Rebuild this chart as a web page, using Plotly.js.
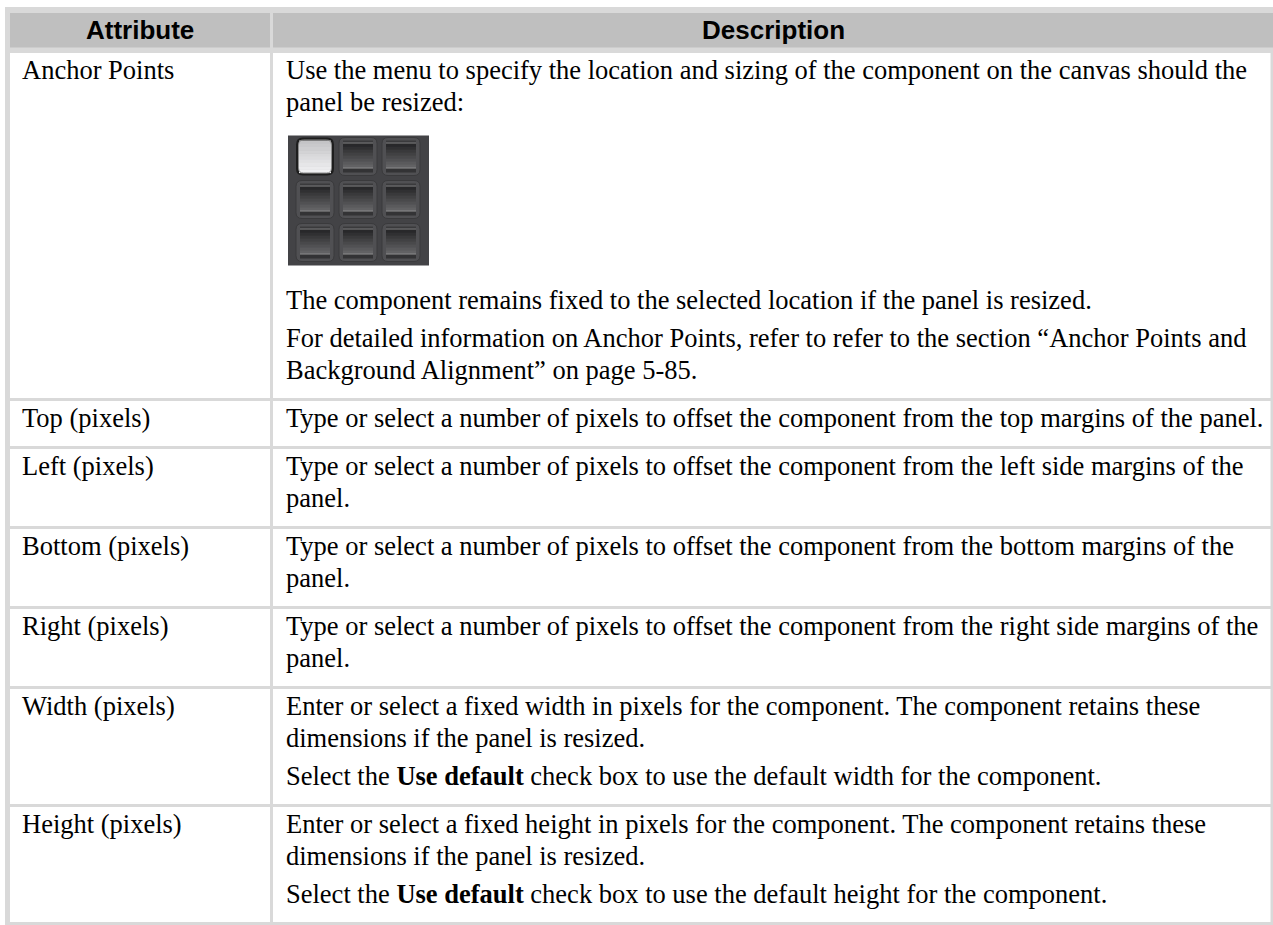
<!DOCTYPE html>
<html>
<head>
<meta charset="utf-8">
<script src="https://cdn.plot.ly/plotly-3.0.1.min.js"></script>
<style>
html,body{margin:0;padding:0;background:#fff;}
#chart{width:1273px;height:925px;}
</style>
</head>
<body>
<div id="chart"></div>
<script>
// ---- table content ----
const headers = ["Attribute", "Description"];
const attributes = ["Anchor Points", "Top (pixels)", "Left (pixels)", "Bottom (pixels)", "Right (pixels)", "Width (pixels)", "Height (pixels)"];
// each description: list of paragraphs; each paragraph is a list of wrapped lines; "IMAGE" = anchor grid picture
const descAnchor = [
  ["Use the menu to specify the location and sizing of the component on the canvas should the", "panel be resized:"],
  "IMAGE",
  ["The component remains fixed to the selected location if the panel is resized."],
  ["For detailed information on Anchor Points, refer to refer to the section \u201cAnchor Points and", "Background Alignment\u201d on page 5-85."]
];
const descTop = [["Type or select a number of pixels to offset the component from the top margins of the panel."]];
const descLeft = [["Type or select a number of pixels to offset the component from the left side margins of the", "panel."]];
const descBottom = [["Type or select a number of pixels to offset the component from the bottom margins of the", "panel."]];
const descRight = [["Type or select a number of pixels to offset the component from the right side margins of the", "panel."]];
const descWidth = [
  ["Enter or select a fixed width in pixels for the component. The component retains these", "dimensions if the panel is resized."],
  ["Select the <b>Use default</b> check box to use the default width for the component."]
];
const descHeight = [
  ["Enter or select a fixed height in pixels for the component. The component retains these", "dimensions if the panel is resized."],
  ["Select the <b>Use default</b> check box to use the default height for the component."]
];
const descriptions = [descAnchor, descTop, descLeft, descBottom, descRight, descWidth, descHeight];
// anchor grid: which button is selected (row, col)
const anchorSelected = [0, 0];

// ---- geometry / style ----
const W = 1273, H = 925;
const BORDER = '#d9d9d9', HEADFILL = '#bfbfbf';
const serif = 'Liberation Serif, Times New Roman, serif';
const sans = 'Liberation Sans, Arial, sans-serif';
const FS = 26.5;
const outer = {x0: 5, y0: 7, x1: W, y1: H};
const col1 = {x0: 10, x1: 270};
const col2 = {x0: 273, x1: 1270.5};
const head = {y0: 13, y1: 47.5};
const bodyTop = 53;
const FIRST = 16.5, WRAP = 32, PARA = 38, BOTTOM = 28.5, DIV = 3;
const IMG = {w: 141, h: 130, gapBefore: 34, gapAfter: 34};

const shapes = [];
const annotations = [];
function rect(x0, y0, x1, y1, fill, line) {
  shapes.push({type: 'rect', xref: 'x', yref: 'y', x0, y0, x1, y1, fillcolor: fill,
    line: line ? line : {width: 0}, layer: 'above'});
}
function rrPath(x0, y0, x1, y1, r) {
  return `M${x0 + r},${y0} L${x1 - r},${y0} Q${x1},${y0} ${x1},${y0 + r} L${x1},${y1 - r} Q${x1},${y1} ${x1 - r},${y1} L${x0 + r},${y1} Q${x0},${y1} ${x0},${y1 - r} L${x0},${y0 + r} Q${x0},${y0} ${x0 + r},${y0} Z`;
}
function rr(x0, y0, x1, y1, r, fill, line) {
  shapes.push({type: 'path', xref: 'x', yref: 'y', path: rrPath(x0, y0, x1, y1, r), fillcolor: fill,
    line: line ? line : {width: 0}, layer: 'above'});
}
function text(x, y, t, font, anchor) {
  annotations.push({xref: 'x', yref: 'y', x, y, text: t, showarrow: false, xanchor: anchor || 'left',
    yanchor: 'middle', font, borderpad: 0, borderwidth: 0});
}
function lerp(a, b, t) { return Math.round(a + (b - a) * t); }
function grad(c0, c1, t) {
  return `rgb(${lerp(c0[0], c1[0], t)},${lerp(c0[1], c1[1], t)},${lerp(c0[2], c1[2], t)})`;
}

function drawAnchorGrid(x0, y0) {
  rect(x0, y0, x0 + IMG.w, y0 + IMG.h, '#434346');
  const size = 38, pitch = 43, offX = 8, offY = 2;
  for (let r = 0; r < 3; r++) {
    for (let c = 0; c < 3; c++) {
      const bx = x0 + offX + c * pitch, by = y0 + offY + r * pitch;
      const sel = (r === anchorSelected[0] && c === anchorSelected[1]);
      if (sel) {
        rr(bx, by, bx + size, by + size, 7, '#1e1e1e');
        const n = 10;
        for (let k = 0; k < n; k++) {
          const t = k / (n - 1);
          const y = by + 3 + k * (size - 6) / n;
          shapes.push({type: 'rect', xref: 'x', yref: 'y', x0: bx + 3, x1: bx + size - 3, y0: y, y1: y + (size - 6) / n + 0.6,
            fillcolor: grad([196, 196, 198], [240, 240, 242], t), line: {width: 0}, layer: 'above'});
        }
        rr(bx + 2.5, by + 2.5, bx + size - 2.5, by + size - 2.5, 5, 'rgba(0,0,0,0)', {color: '#8a8a8a', width: 1});
      } else {
        rr(bx, by, bx + size, by + size, 6, '#505053', {color: '#3a3a3c', width: 1});
        rect(bx + 4, by + 3, bx + size - 4, by + 6, '#3a3a3c');
        rect(bx + 4, by + 5, bx + size - 4, by + 6.2, '#7a7a7c');
        const n = 8, fy0 = by + 6.2, fy1 = by + size - 8;
        for (let k = 0; k < n; k++) {
          const t = k / (n - 1);
          const y = fy0 + k * (fy1 - fy0) / n;
          shapes.push({type: 'rect', xref: 'x', yref: 'y', x0: bx + 4, x1: bx + size - 4, y0: y, y1: y + (fy1 - fy0) / n + 0.6,
            fillcolor: grad([40, 40, 42], [98, 98, 100], t), line: {width: 0}, layer: 'above'});
        }
        rect(bx + 4, fy1, bx + size - 4, fy1 + 1.2, '#8a8a8c');
        rect(bx + 4, fy1 + 1.2, bx + size - 4, by + size - 3, '#333335');
      }
    }
  }
}

// outer border frame
rect(outer.x0, outer.y0, outer.x1, outer.y1, BORDER);
// header
rect(col1.x0, head.y0, col1.x1, head.y1, HEADFILL);
rect(col2.x0, head.y0, W, head.y1, HEADFILL);
const hfont = {family: sans, size: 26, color: '#000'};
text((col1.x0 + col1.x1) / 2, 29.5, '<b>' + headers[0] + '</b>', hfont, 'center');
text((col2.x0 + W) / 2, 29.5, '<b>' + headers[1] + '</b>', hfont, 'center');

const bfont = {family: serif, size: FS, color: '#000'};
let rowTop = bodyTop;
attributes.forEach((attr, i) => {
  const desc = descriptions[i];
  let y = rowTop + FIRST;
  let first = true;
  const items = [];
  let prevKind = null;
  desc.forEach(p => {
    if (p === 'IMAGE') {
      const iy0 = y + IMG.gapBefore;
      items.push({kind: 'img', y: iy0});
      y = iy0 + IMG.h + IMG.gapAfter;
      prevKind = 'img';
      return;
    }
    p.forEach((ln, j) => {
      if (!first && prevKind !== 'img') y += (j === 0 ? PARA : WRAP);
      items.push({kind: 'txt', y, t: ln});
      first = false;
      prevKind = 'txt';
    });
  });
  const rowBottom = y + BOTTOM;
  rect(col1.x0, rowTop, col1.x1, rowBottom, '#ffffff');
  rect(col2.x0, rowTop, col2.x1, rowBottom, '#ffffff');
  text(col1.x0 + 12, rowTop + FIRST, attr, bfont);
  items.forEach(it => {
    if (it.kind === 'img') drawAnchorGrid(col2.x0 + 15, it.y);
    else text(col2.x0 + 13, it.y, it.t, bfont);
  });
  rowTop = rowBottom + DIV;
});

const data = [{type: 'scatter', x: [0], y: [0], mode: 'markers', marker: {opacity: 0}, hoverinfo: 'skip', showlegend: false}];
const layout = {
  width: W, height: H,
  margin: {l: 0, r: 0, t: 0, b: 0, pad: 0},
  paper_bgcolor: '#ffffff', plot_bgcolor: '#ffffff',
  xaxis: {range: [0, W], visible: false, fixedrange: true},
  yaxis: {range: [H, 0], visible: false, fixedrange: true},
  shapes, annotations, showlegend: false
};
Plotly.newPlot('chart', data, layout, {staticPlot: true, displayModeBar: false});
</script>
</body>
</html>
